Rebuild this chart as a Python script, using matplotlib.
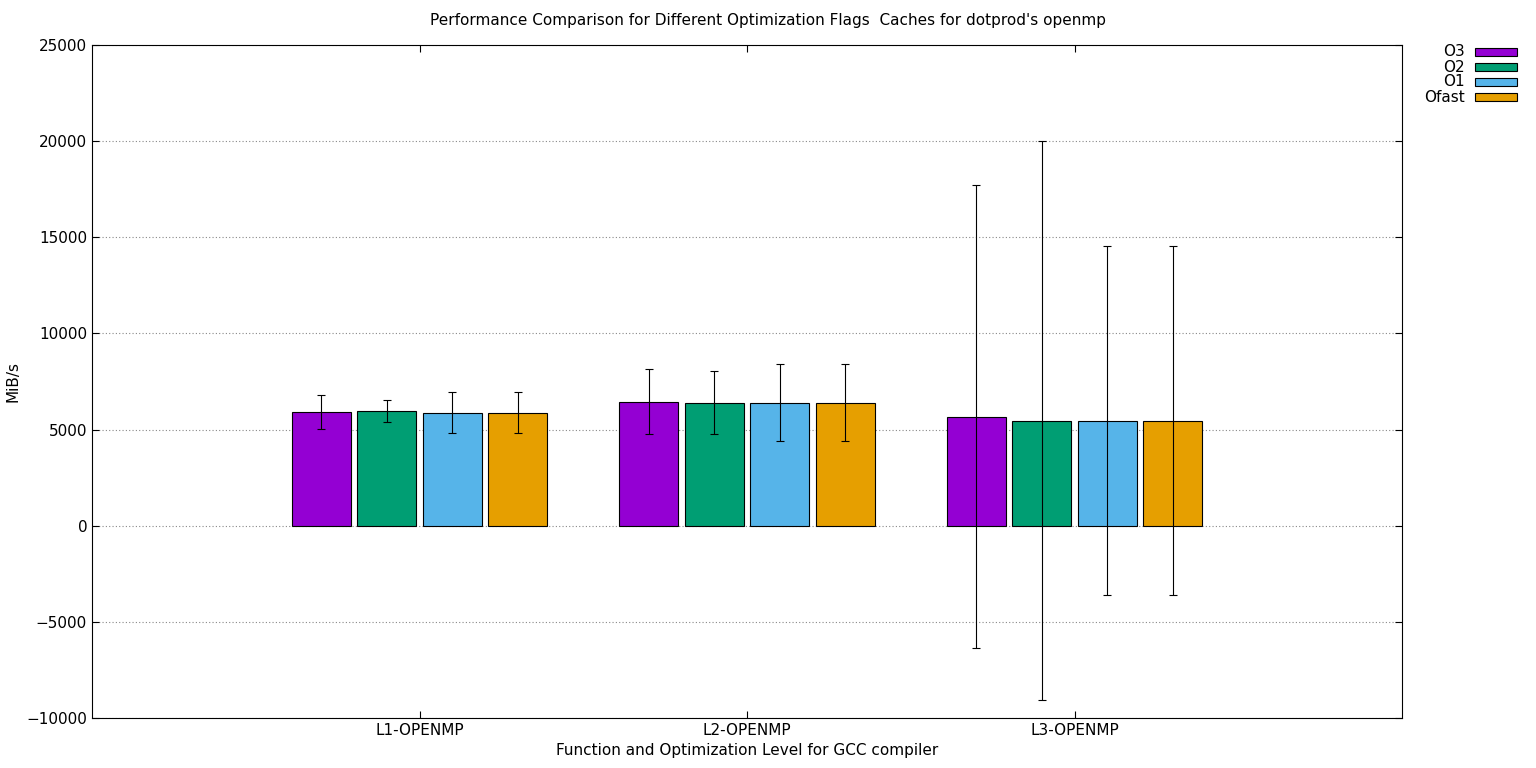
import matplotlib
matplotlib.use("Agg")
import matplotlib.pyplot as plt
from matplotlib.patches import Rectangle
import numpy as np

groups = ["L1-OPENMP", "L2-OPENMP", "L3-OPENMP"]
series = ["O3", "O2", "O1", "Ofast"]
colors = ["#9400d3", "#009e73", "#56b4e9", "#e69f00"]
means = {
    "O3":    [5920, 6450, 5670],
    "O2":    [5970, 6400, 5460],
    "O1":    [5880, 6400, 5460],
    "Ofast": [5880, 6400, 5460],
}
errs = {
    "O3":    [900, 1680, 12030],
    "O2":    [560, 1650, 14530],
    "O1":    [1070, 2000, 9080],
    "Ofast": [1070, 2000, 9080],
}

fig = plt.figure(figsize=(15.36, 7.68), dpi=100)
ax = fig.add_axes([92/1536, 1-718/768, 1310/1536, 673/768])
x = np.arange(len(groups))
offs = [-0.3, -0.1, 0.1, 0.3]
for s, c, o in zip(series, colors, offs):
    ax.bar(x + o, means[s], width=0.18, color=c, edgecolor="black", linewidth=0.8, zorder=2)
    ax.errorbar(x + o, means[s], yerr=errs[s], fmt="none", ecolor="black",
                elinewidth=0.8, capsize=3, capthick=0.8, zorder=3)

ax.set_xlim(-1, 3)
ax.set_ylim(-10000, 25000)
ax.set_yticks(np.arange(-10000, 25001, 5000))
ax.set_xticks(x)
ax.set_xticklabels(groups)
ax.yaxis.grid(True, linestyle=(0, (1, 2)), color="#888888", linewidth=0.8, zorder=0)
ax.tick_params(direction="in", top=True, right=True, labelsize=11, length=5)
ax.set_ylabel("MiB/s", fontsize=11)
ax.set_xlabel("Function and Optimization Level for GCC compiler", fontsize=11, labelpad=4)
fig.text(0.5, 1-21/768, "Performance Comparison for Different Optimization Flags  Caches for dotprod's openmp",
         ha="center", va="center", fontsize=11)

for i, (s, c) in enumerate(zip(series, colors)):
    yc = 52 + 15*i
    fig.patches.append(Rectangle((1475/1536, 1-(yc+3.5)/768), 42/1536, 7/768,
                                 transform=fig.transFigure, facecolor=c, edgecolor="black", linewidth=0.8))
    fig.text(1465/1536, 1-yc/768, s, ha="right", va="center", fontsize=11)

fig.savefig("out.png", dpi=100)
